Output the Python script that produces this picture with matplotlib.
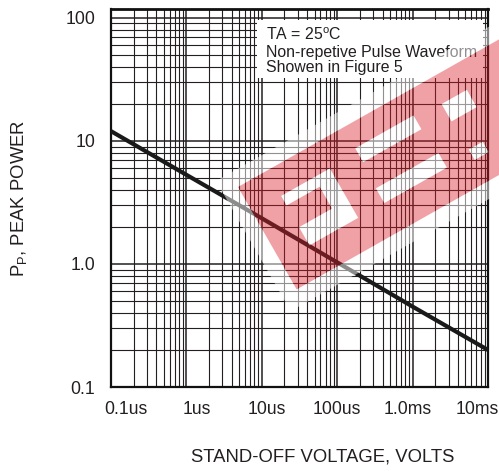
import numpy as np
import matplotlib
matplotlib.use("Agg")
import matplotlib.pyplot as plt
from matplotlib.transforms import ScaledTranslation, IdentityTransform
from matplotlib.patches import Polygon, Rectangle
from matplotlib.path import Path
from matplotlib.patches import PathPatch

plt.rcParams['font.family'] = ['Liberation Sans', 'DejaVu Sans']
plt.rcParams['mathtext.fontset'] = 'custom'
plt.rcParams['mathtext.rm'] = 'Liberation Sans'

# ---- data ----
pulse_time_s = [1e-7, 1e-6, 1e-5, 1e-4, 1e-3, 1e-2]
peak_power = [12.0, 5.3, 2.35, 1.03, 0.45, 0.2]
x_tick_vals = [1e-7, 1e-6, 1e-5, 1e-4, 1e-3, 1e-2]
x_tick_labels = ['0.1us', '1us', '10us', '100us', '1.0ms', '10ms']
y_tick_vals = [0.1, 1.0, 10, 100]
y_tick_labels = ['0.1', '1.0', '10', '100']

W, H = 499, 471
DPI = 100
TXT = '#231f20'

fig = plt.figure(figsize=(W / DPI, H / DPI), dpi=DPI)
ax = fig.add_axes([111 / W, (H - 387) / H, (488 - 111) / W, (387 - 9) / H])
ax.set_xscale('log')
ax.set_yscale('log')
ax.set_xlim(1e-7, 1e-2)
ax.set_ylim(0.1, 118)

ax.grid(True, which='major', color=TXT, lw=1.1)
ax.grid(True, which='minor', color=TXT, lw=0.8)
ax.set_axisbelow(True)

ax.plot(pulse_time_s, peak_power, color='#1a1a1a', lw=3.0, solid_capstyle='butt', zorder=3)

ax.set_xticks(x_tick_vals)
ax.set_xticklabels(x_tick_labels)
ax.set_yticks(y_tick_vals)
ax.set_yticklabels(y_tick_labels)
ax.tick_params(which='both', length=0)
ax.tick_params(axis='x', pad=10, labelsize=12.7, colors=TXT)
ax.tick_params(axis='y', pad=11.5, labelsize=12.7, colors=TXT)

offsets_px = [15, 10.6, 5, 0, -4.6, -11]
for lab, dx in zip(ax.get_xticklabels(), offsets_px):
    lab.set_transform(lab.get_transform() + ScaledTranslation(dx / DPI, 0, fig.dpi_scale_trans))

for s in ax.spines.values():
    s.set_linewidth(1.6)
    s.set_color('#111111')
ax.spines['top'].set_linewidth(2.0)

ax.set_xlabel('STAND-OFF VOLTAGE, VOLTS', fontsize=13.3, color=TXT)
ax.xaxis.set_label_coords((323 - 111) / 377, -(448 - 387) / 378)
ax.set_ylabel(r'P$_{\mathrm{P}}$, PEAK POWER', fontsize=13.3, color=TXT)
ax.yaxis.set_label_coords(-0.218, 0.5)

# annotation box
ax.add_patch(Rectangle(((257 - 111) / 377, (387 - 78) / 378), (483 - 257) / 377, (78 - 20) / 378,
                       transform=ax.transAxes, facecolor='white', edgecolor='none', zorder=4))
for txt, yb in [(r'TA = 25$^{\mathrm{o}}$C', 40), ('Non-repetive Pulse Waveform', 56.7),
                ('Showen in Figure 5', 71.7)]:
    ax.text((265.5 - 111) / 377, (387 - yb) / 378, txt, transform=ax.transAxes,
            fontsize=11.4, color=TXT, va='baseline', ha='left', zorder=5)

# ---- watermark (display pixel coords) ----
d = np.array([0.870, -0.492])
p = np.array([0.497, 0.868])
A = np.array([238.0, 187.0])

def loc(t0, t1, s0, s1):
    pts = [A + t0 * d + s0 * p, A + t1 * d + s0 * p, A + t1 * d + s1 * p, A + t0 * d + s1 * p]
    pts = np.array(pts)
    return np.column_stack([pts[:, 0], H - pts[:, 1]])

band = loc(0, 330, 0, 118)
halo = loc(-16, 346, -16, 134)
holes = [loc(33, 89, 29, 40), loc(33, 89, 65, 86), loc(71, 89, 40, 65),
         loc(121, 188, 24, 40), loc(119, 191, 69, 86),
         loc(218, 247, 28, 48), loc(219, 235, 81, 93)]

def compound(outer, inner_list):
    verts, codes = [], []
    for poly, rev in [(outer, False)] + [(h, True) for h in inner_list]:
        pp = poly[::-1] if rev else poly
        verts += list(pp) + [pp[0]]
        codes += [Path.MOVETO] + [Path.LINETO] * (len(pp) - 1) + [Path.CLOSEPOLY]
    return Path(np.array(verts), codes)

fig.add_artist(PathPatch(compound(halo, [band]), facecolor='white', edgecolor='none', alpha=0.5,
                         transform=IdentityTransform(), zorder=10))
for h in holes:
    fig.add_artist(Polygon(h, closed=True, facecolor='white', edgecolor='none', alpha=0.55,
                           transform=IdentityTransform(), zorder=10))
fig.add_artist(PathPatch(compound(band, holes), facecolor=(0.85, 0.12, 0.17), edgecolor='none',
                         alpha=0.42, transform=IdentityTransform(), zorder=11))

fig.savefig('out.png', dpi=DPI)
